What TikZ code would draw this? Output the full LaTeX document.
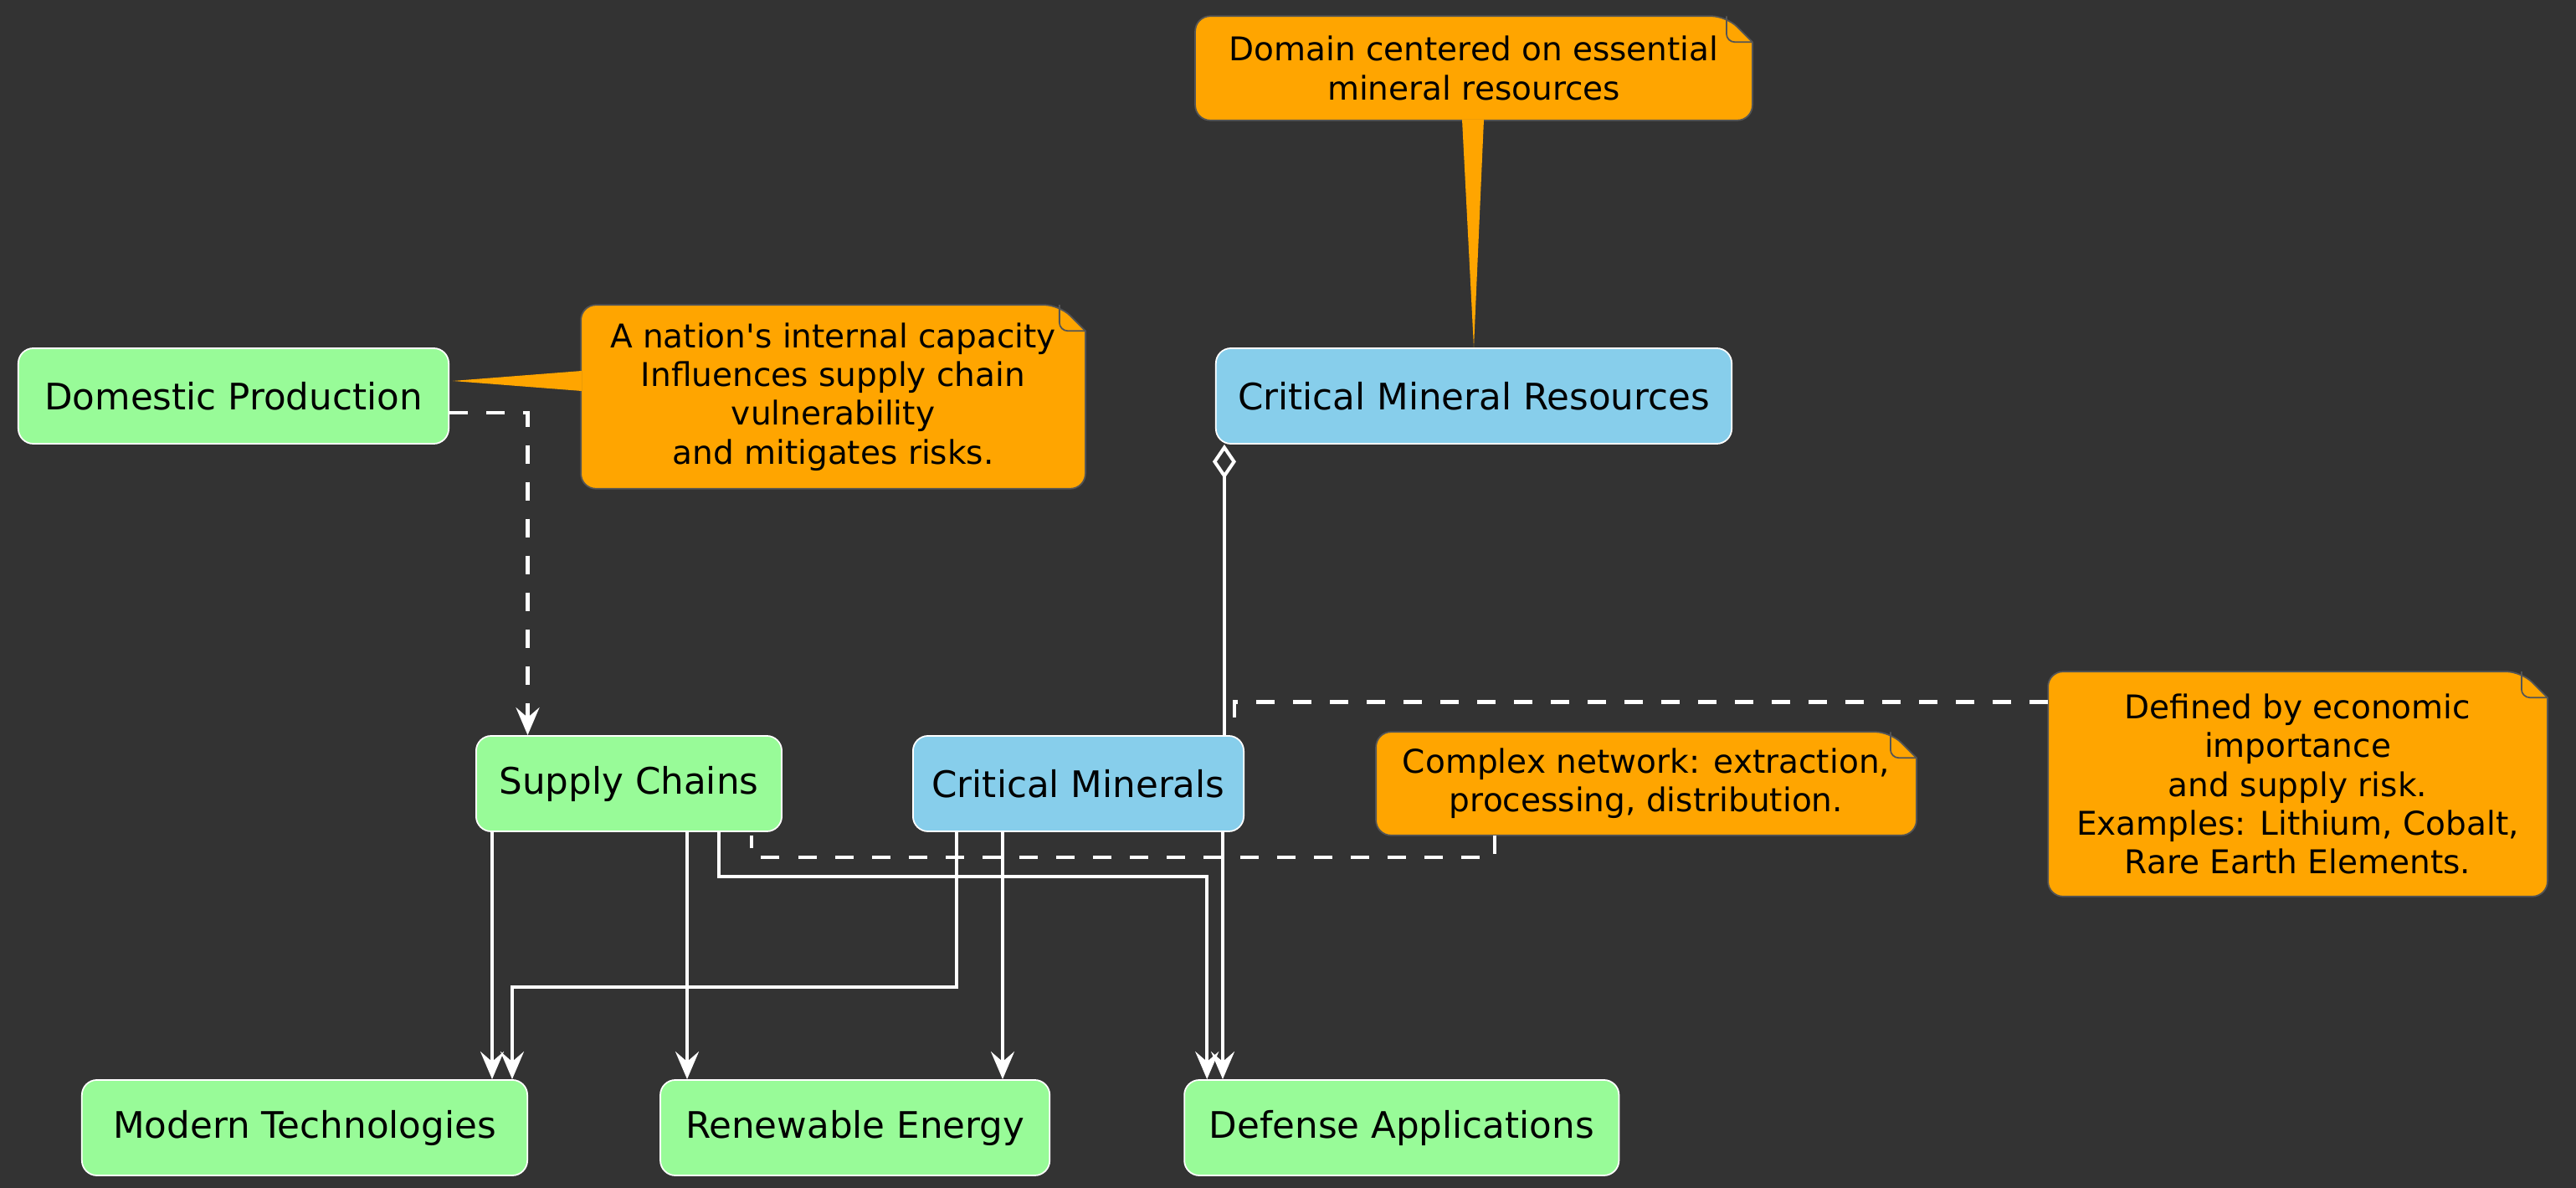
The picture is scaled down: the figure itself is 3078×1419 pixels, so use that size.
\documentclass[tikz,border=0pt]{standalone}
\usepackage{fontspec}
\setmainfont{DejaVu Sans}[Ligatures=TeXOff]
\usetikzlibrary{positioning}
\usetikzlibrary{calc}
\usetikzlibrary{arrows.meta}
\usetikzlibrary{backgrounds}

\definecolor{canvas}{HTML}{333333}
\definecolor{leafgreen}{HTML}{98FB98}
\definecolor{skyblue}{HTML}{87CEEB}
\definecolor{amber}{HTML}{FFA500}
\definecolor{memoline}{HTML}{555555}

\newcommand{\memobody}[1]{%
  \path[memo body] (#1.west) -- (#1.north west) -- ([xshift=-0.31cm]#1.north east) [sharp corners] -- ([yshift=-0.31cm]#1.north east) [rounded corners=0.18cm] -- (#1.south east) -- (#1.south west) -- cycle;
  \path[memo fold] ([xshift=-0.31cm]#1.north east) [rounded corners=0.1cm] -- ([xshift=-0.31cm,yshift=-0.31cm]#1.north east) [sharp corners] -- ([yshift=-0.31cm]#1.north east);
}

\begin{document}
\begin{tikzpicture}[x=0.01cm, y=-0.01cm,
			box/.style={draw=white, line width=0.5pt, rounded corners=0.18cm, minimum height=1.14cm, inner sep=0pt, font=\fontsize{12.4}{15}\selectfont},
			green box/.style={box, fill=leafgreen},
			blue box/.style={box, fill=skyblue},
			memo/.style={inner sep=0pt, align=center, font=\fontsize{11.1}{13.2}\selectfont},
			memo body/.style={fill=amber, draw=memoline, line width=0.5pt, rounded corners=0.18cm},
			memo fold/.style={draw=memoline, line width=0.5pt},
			link/.style={draw=white, line width=1.15pt},
			arr/.style={link, -{Stealth[length=0.33cm, width=0.28cm, inset=0.12cm]}},
			dep/.style={arr, dash pattern=on 0.22cm off 0.22cm},
			memo link/.style={link, dash pattern=on 0.22cm off 0.22cm}]
			\useasboundingbox (0,0) rectangle (3078,1419);
			\node[green box, minimum width=5.14cm](dom) at (279,473){Domestic Production};
			\node[blue box, minimum width=6.16cm](cmr) at (1761,473){Critical Mineral Resources};
			\node[green box, minimum width=3.65cm](sc) at (751.5,936){Supply Chains};
			\node[blue box, minimum width=3.95cm](cm) at (1288.5,936){Critical Minerals};
			\node[green box, minimum width=5.32cm](mt) at (364,1347){Modern Technologies};
			\node[green box, minimum width=4.65cm, right=1.57cm of mt](re){Renewable Energy};
			\node[green box, minimum width=5.19cm, right=1.59cm of re](da){Defense Applications};
			\node[memo, minimum width=6.01cm, minimum height=2.18cm](ndom) at (995.5,474){A nation's internal capacity\\Influences supply chain\\vulnerability\\and mitigates risks.};
			\node[memo, minimum width=6.64cm, minimum height=1.23cm](ncmr) at (1761,81.5){Domain centered on essential\\mineral resources};
			\node[memo, minimum width=6.44cm, minimum height=1.22cm](nnet) at (1967,936){Complex network: extraction,\\processing, distribution.};
			\node[memo, minimum width=5.95cm, minimum height=2.67cm](ndef) at (2745.5,936.5){Defined by economic\\importance\\and supply risk.\\Examples: Lithium, Cobalt,\\Rare Earth Elements.};
			\begin{scope}[on background layer]
				\fill[canvas] (0,0) rectangle (3078,1419);
				\memobody{ndom}
				\memobody{ncmr}
				\memobody{nnet}
				\memobody{ndef}
				\fill[amber] ($(ndom.west)+(1,-31)$) -- ($(dom.east)+(4,-18)$) -- ($(ndom.west)+(1,-7)$) -- cycle;
				\fill[amber] ($(ncmr.south)+(-14,-1)$) -- (cmr.north) -- ($(ncmr.south)+(12,-1)$) -- cycle;
			\end{scope}
			\draw[dep] ($(dom.east)+(0,20)$) -| ($(sc.north)+(-121,0)$);
			\coordinate (agg) at ($(cmr.south west)+(11,0)$);
			\draw[link, {Diamond[open, length=0.41cm, width=0.28cm]}-] (agg) -- (agg |- cm.north);
			\draw[memo link] ($(ndef.west)+(0,-98)$) -| ($(cm.north east)+(-12,-3)$);
			\draw[memo link] ($(nnet.south)+(-181,0)$) -- ++(0,26) -| ($(sc.south east)+(-37,4)$);
			\draw[arr] ($(sc.south west)+(20,0)$) coordinate (s1) -- (s1 |- mt.north);
			\draw[arr] ($(cm.south west)+(53,0)$) |- ($(mt.north)+(248,-110)$) -- ($(mt.north)+(248,0)$);
			\draw[arr] ($(sc.south west)+(253,0)$) coordinate (s2) -- (s2 |- re.north);
			\draw[arr] ($(cm.south west)+(108,0)$) coordinate (c2) -- (c2 |- re.north);
			\draw[arr] ($(sc.south west)+(291,0)$) |- ($(da.north west)+(28,-242)$) -- ($(da.north west)+(28,0)$);
			\draw[arr] ($(cm.south west)+(371,0)$) coordinate (c3) -- (c3 |- da.north);
	\end{tikzpicture}
\end{document}
